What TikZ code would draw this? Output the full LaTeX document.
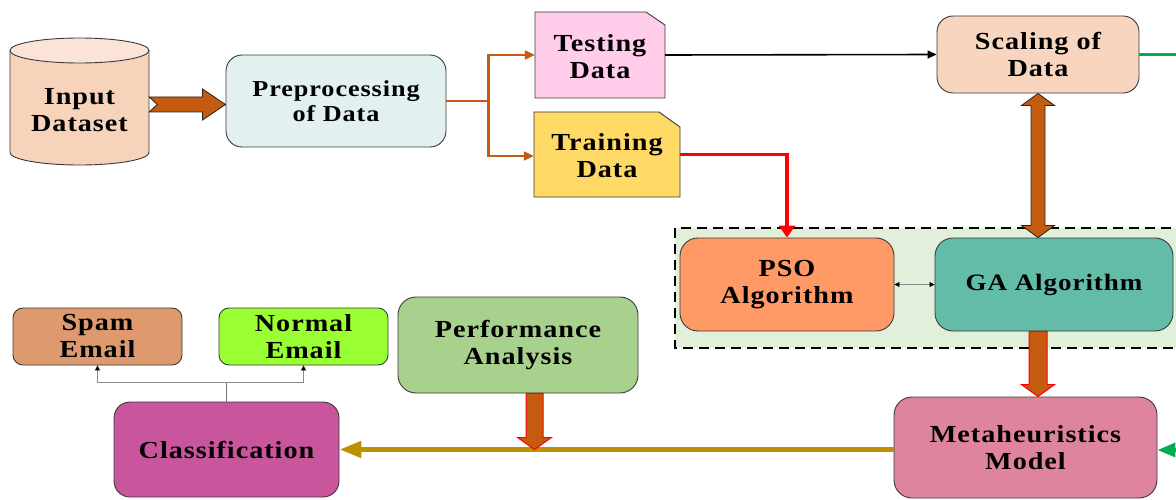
\documentclass[tikz,border=0pt]{standalone}
\usepackage{fontspec}
\setmainfont{Liberation Serif}[FakeStretch=1.15,LetterSpace=4]
\usetikzlibrary{arrows.meta,calc}
\definecolor{edgec}{HTML}{3A3A3A}
\definecolor{brownc}{HTML}{C55A11}
\definecolor{goldc}{HTML}{BF9000}
\definecolor{greenc}{HTML}{00B050}
\definecolor{cylbody}{HTML}{F8D3BC}
\definecolor{cyltop}{HTML}{FBE4D7}
\definecolor{prec}{HTML}{E2F1EF}
\definecolor{tstc}{HTML}{FFCCEA}
\definecolor{trnc}{HTML}{FFD966}
\definecolor{sclc}{HTML}{F8D5BF}
\definecolor{grpc}{HTML}{E2EFDA}
\definecolor{psoc}{HTML}{FF9966}
\definecolor{gac}{HTML}{63BCA8}
\definecolor{metac}{HTML}{DE849D}
\definecolor{perfc}{HTML}{A9D18E}
\definecolor{clsc}{HTML}{C9559D}
\definecolor{spamc}{HTML}{DE9A6E}
\definecolor{normc}{HTML}{99FF33}
\begin{document}
\begin{tikzpicture}[x=1pt,y=-1pt,
  lbl/.style={align=center,inner sep=0pt,font=\fontsize{24.5}{27}\selectfont\bfseries},
  box/.style={lbl,draw=edgec,line width=0.9pt,rounded corners=16pt},
  smallbox/.style={lbl,draw=edgec,line width=0.9pt,rounded corners=10pt},
  plain/.style={lbl},
  fatb/.style={fill=brownc,draw=black!85,line width=0.8pt},
  fatr/.style={fill=brownc,draw=red,line width=1pt},
  orline/.style={draw=brownc,line width=2.2pt,-{Triangle[length=10pt,width=9pt]}},
  smalltip/.tip={Triangle[length=5pt,width=5pt,color=black]},
  thin/.style={draw=black!45,line width=0.8pt,-smalltip}
]
\useasboundingbox (0,0) rectangle (1176,500);
\clip (0,0) rectangle (1176,500);

% group box
\draw[fill=grpc,draw=black,line width=1.8pt,dash pattern=on 10pt off 6pt] (675,228) rectangle (1195,348);

% cylinder
\draw[fill=cylbody,draw=edgec,line width=0.9pt] (10,50.5) -- (10,152.5) arc[start angle=180,end angle=360,x radius=69.5pt,y radius=12.5pt] -- (149,50.5);
\draw[fill=cyltop,draw=edgec,line width=0.9pt] (79.5,50.5) ellipse[x radius=69.5pt,y radius=12.5pt];
\node[plain,minimum width=139pt] (inp) at (79.5,110) {Input\\Dataset};

% boxes
\node[box,fill=prec,minimum width=220pt,minimum height=92pt,font=\fontsize{22.8}{24.5}\selectfont\bfseries] (pre) at (336,101) {Preprocessing\\of Data};
\node[box,fill=sclc,minimum width=202pt,minimum height=77pt] (scl) at (1038,54.5) {Scaling of\\Data};
\node[box,fill=psoc,minimum width=214pt,minimum height=93pt,rounded corners=18pt] (pso) at (787,284.5) {PSO\\Algorithm};
\node[box,fill=gac,minimum width=238pt,minimum height=93pt,rounded corners=18pt,font=\fontsize{23.5}{27}\selectfont\bfseries] (ga) at (1054,284.5) {GA Algorithm};
\node[box,fill=metac,minimum width=263pt,minimum height=101pt,rounded corners=18pt] (meta) at (1025.5,447.5) {Metaheuristics\\Model};
\node[box,fill=perfc,minimum width=240pt,minimum height=96pt,rounded corners=18pt] (perf) at (518,345) {Performance\\Analysis};
\node[box,fill=clsc,minimum width=225pt,minimum height=95pt] (cls) at (226.5,449.5) {Classification};
\node[smallbox,fill=spamc,minimum width=169pt,minimum height=57pt] (spam) at (97.5,336.5) {Spam\\Email};
\node[smallbox,fill=normc,minimum width=169pt,minimum height=57pt] (norm) at (303.5,336.5) {Normal\\Email};

% snipped-corner boxes
\path[fill=tstc,draw=edgec,line width=0.9pt] (535,98) -- (535,12) -- (646,12) -- (665,25) -- (665,98) -- cycle;
\node[plain,minimum width=130pt,minimum height=86pt] (tst) at (600,57) {Testing\\Data};
\path[fill=trnc,draw=edgec,line width=0.9pt] (534,197) -- (534,112) -- (659,112) -- (680,127) -- (680,197) -- cycle;
\node[plain,minimum width=146pt,minimum height=85pt] (trn) at (607,156) {Training\\Data};

% input -> preprocessing (notched fat arrow)
\draw[fatb] let \p1=($(inp.east)+(0,-5.5)$), \p2=(pre.west) in
  (\x1,\y1+7.5pt) -- (\x2-23pt,\y1+7.5pt) -- (\x2-23pt,\y1+15.5pt) -- (\x2,\y1) -- (\x2-23pt,\y1-15.5pt) -- (\x2-23pt,\y1-7.5pt) -- (\x1,\y1-7.5pt) -- (\x1+8pt,\y1) -- cycle;

% preprocessing -> testing / training
\coordinate (br) at ($(pre.east)+(42,0)$);
\draw[draw=brownc,line width=2.2pt] (pre.east) -- (br);
\draw[orline] (br) |- ($(tst.west)+(0,-2)$);
\draw[orline] (br) |- (trn.west);

% testing -> scaling
\draw[black,line width=1.6pt,-{Triangle[length=9pt,width=8pt]}] ($(tst.east)+(0,-2)$) -- (scl.west);

% scaling -> right edge (green)
\coordinate (gout) at (1176,54.5);
\draw[greenc,line width=3.5pt] (scl.east) -- (gout);

% training -> PSO (red)
\draw[red,line width=3.5pt,-{Triangle[length=12pt,width=16pt]}] ($(trn.east)+(0,-1.5)$) -| (pso.north);

% scaling <-> GA
\draw[fatb] let \p1=(scl.south), \p2=(ga.north) in
  (\x1,\y1) -- (\x1+16.5pt,\y1-12pt) -- (\x1+7pt,\y1-12pt) -- (\x1+7pt,\y2+12pt) -- (\x1+16.5pt,\y2+12pt) -- (\x1,\y2) -- (\x1-16.5pt,\y2+12pt) -- (\x1-7pt,\y2+12pt) -- (\x1-7pt,\y1-12pt) -- (\x1-16.5pt,\y1-12pt) -- cycle;

% PSO <-> GA
\draw[draw=black!45,line width=0.8pt,smalltip-smalltip] (pso.east) -- (ga.west);

% GA -> Metaheuristics
\draw[fatr] let \p1=(scl.south |- ga.south), \p2=(meta.north) in
  (\x1-9pt,\y1) -- (\x1+9pt,\y1) -- (\x1+9pt,\y2+12pt) -- (\x1+16.5pt,\y2+12pt) -- (\x1,\y2) -- (\x1-16.5pt,\y2+12pt) -- (\x1-9pt,\y2+12pt) -- cycle;

% green into Metaheuristics
\coordinate (gin) at (1176,450);
\draw[greenc,line width=3.5pt,-{Triangle[length=18pt,width=14pt]}] (gin) -- (gin -| meta.east);

% Metaheuristics -> Classification (gold)
\draw[goldc,line width=5pt,-{Triangle[length=22pt,width=16pt]}] (cls.east -| meta.west) -- (cls.east);

% Performance -> line
\draw[fatr] let \p1=($(perf.south)+(16.5,0)$), \p2=(cls.east) in
  (\x1-8.5pt,\y1) -- (\x1+8.5pt,\y1) -- (\x1+8.5pt,\y2+12pt) -- (\x1+17pt,\y2+12pt) -- (\x1,\y2) -- (\x1-17pt,\y2+12pt) -- (\x1-8.5pt,\y2+12pt) -- cycle;

% classification -> spam / normal
\coordinate (jn) at ($(cls.north)+(0,-19)$);
\draw[draw=black!55,line width=0.8pt] (cls.north) -- (jn);
\draw[thin] (jn) -| (spam.south);
\draw[thin] (jn) -| (norm.south);
\end{tikzpicture}
\end{document}
